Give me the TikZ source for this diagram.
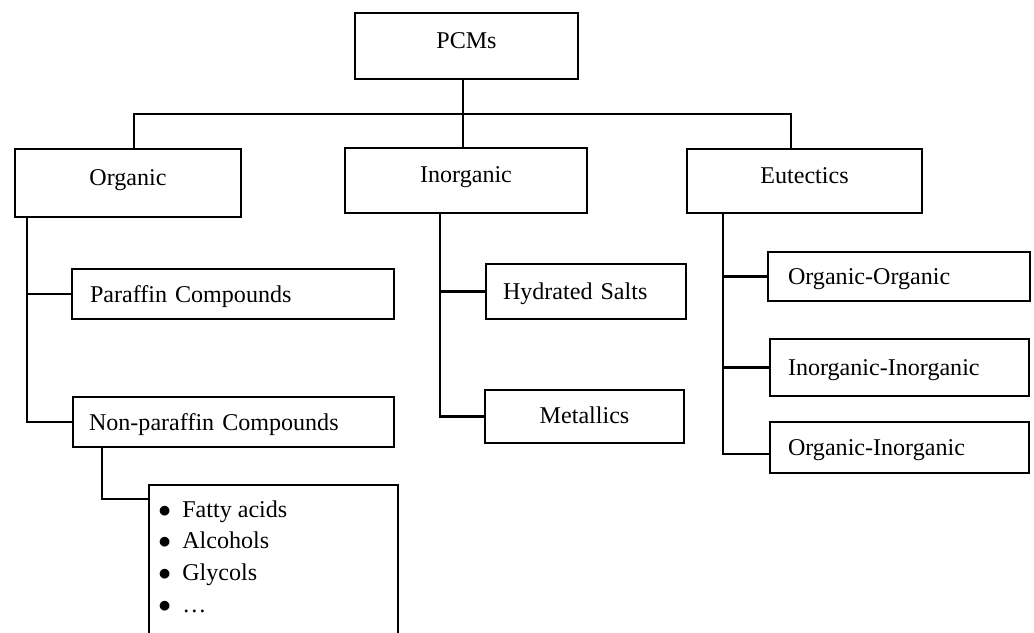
\documentclass[tikz,border=0pt]{standalone}
\usepackage{fontspec}
\setmainfont{Liberation Serif}
\tikzset{
  lw/.style={line width=1.2pt},
  conn/.style={lw},
  basebox/.style={draw, lw, inner ysep=0pt, font=\fontsize{13.7}{16.4}\selectfont},
  bigbox/.style 2 args={basebox, minimum width=#1, minimum height=#2, inner xsep=0pt,
    text height=9.6pt, text depth=7.3pt},
  cbox/.style 2 args={basebox, minimum width=#1, minimum height=#2, inner xsep=0pt,
    text height=9.6pt, text depth=1.5pt},
  subbox/.style n args={4}{basebox, minimum height=#2, text width=#1, inner xsep=#3,
    align=left, text height=9.6pt, text depth=#4},
  listbox/.style={draw, lw, minimum width=4.98cm, minimum height=4cm, anchor=north west, inner sep=0pt},
  itm/.style={anchor=base west, inner sep=0pt, font=\fontsize{13.7}{16.4}\selectfont}
}
\newcommand{\bul}{\makebox[0.46cm][l]{\hspace{-0.5pt}$\bullet$}}
\begin{document}
\begin{tikzpicture}[x=0.02cm,y=-0.02cm]
\useasboundingbox (0,0) rectangle (1034,632);
\clip (0,0) rectangle (1034,632);
% top level
\node[bigbox={4.46cm}{1.32cm}] (pcms) at (466.5,46) {PCMs};
\node[bigbox={4.52cm}{1.36cm}] (org) at (128,183) {Organic};
\node[bigbox={4.84cm}{1.30cm}] (inorg) at (466,180.5) {Inorganic};
\node[bigbox={4.70cm}{1.28cm}] (eut) at (804.5,181) {Eutectics};
% organic children
\node[subbox={5.72cm}{1.00cm}{0.36cm}{0.4pt}] (par) at (233,294) {Paraffin Compounds};
\node[subbox={5.78cm}{1.00cm}{0.32cm}{0.4pt}] (npar) at (233.5,422) {Non-paraffin Compounds};
% inorganic children
\node[subbox={3.32cm}{1.10cm}{0.34cm}{0.4pt}] (hyd) at (586,291.5) {Hydrated Salts};
\node[cbox={3.98cm}{1.06cm}] (met) at (584.5,416.5) {Metallics};
% eutectics children
\node[subbox={4.44cm}{0.98cm}{0.40cm}{0.4pt}] (oo) at (899,276.5) {Organic-Organic};
\node[subbox={4.46cm}{1.14cm}{0.36cm}{0.4pt}] (ii) at (899.5,367.5) {Inorganic-Inorganic};
\node[subbox={4.46cm}{1.02cm}{0.36cm}{0.4pt}] (oi) at (899.5,447.5) {Organic-Inorganic};
% list box
\node[listbox] (list) at (148,484) {};
\node[itm] (i1) at (159,517) {\bul Fatty acids};
\node[itm] (i2) at (159,548.7) {\bul Alcohols};
\node[itm] (i3) at (159,580.4) {\bul Glycols};
\node[itm] (i4) at (159,612) {\bul …};
% connectors
\coordinate (bus) at (463,114);
\coordinate (busL) at (134,114);
\coordinate (busR) at (791,114);
\draw[conn] (pcms.south -| bus) -- (bus |- inorg.north);
\draw[conn] (busL |- org.north) -- (busL) -- (busR) -- (busR |- eut.north);
\coordinate (ov) at (27,217);
\draw[conn] (org.south -| ov) |- (par.west);
\draw[conn] (org.south -| ov) |- (npar.west);
\coordinate (iv) at (440,213);
\draw[conn] (inorg.south -| iv) |- (hyd.west);
\draw[conn] (inorg.south -| iv) |- (met.west);
\coordinate (ev) at (723,213);
\draw[conn] (eut.south -| ev) |- (oo.west);
\draw[conn] (eut.south -| ev) |- (ii.west);
\draw[conn] (eut.south -| ev) |- ([yshift=-0.13cm]oi.west);
\coordinate (nv) at (102,447);
\coordinate (lj) at (148,499);
\draw[conn] (npar.south -| nv) |- (lj);
\end{tikzpicture}
\end{document}
